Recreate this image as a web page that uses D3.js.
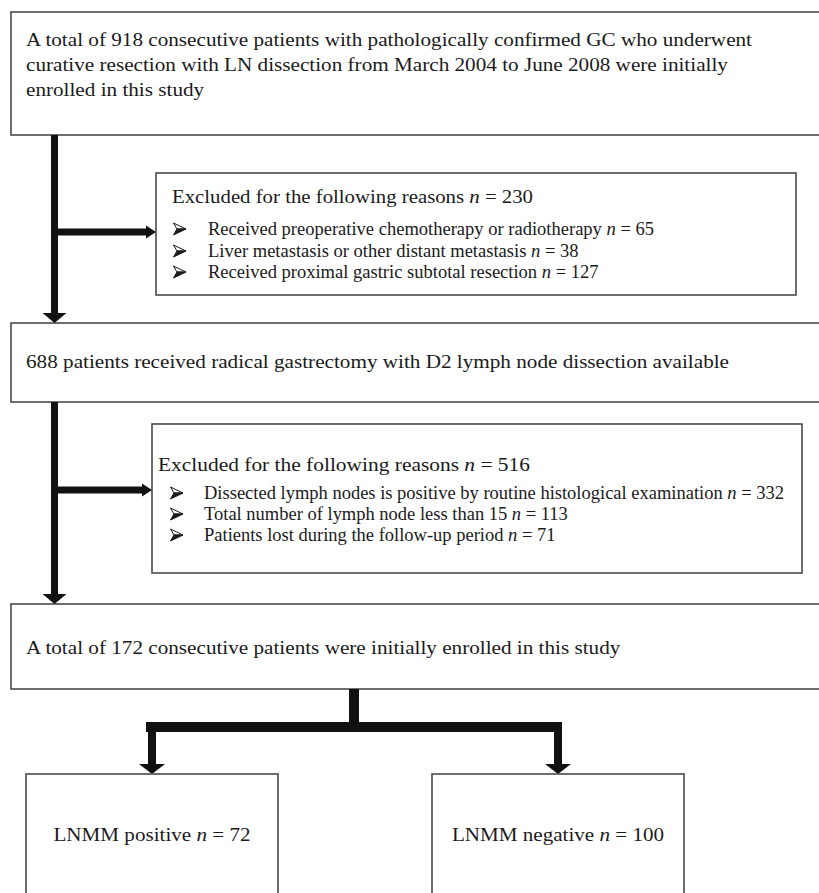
<!DOCTYPE html>
<html>
<head>
<meta charset="utf-8">
<script src="https://cdn.jsdelivr.net/npm/d3@7"></script>
<style>
  body { margin: 0; background: #fff; }
  text { font-family: "Liberation Serif", "DejaVu Serif", serif; fill: #1a1a1a; }
</style>
</head>
<body>
<svg id="chart"></svg>
<script>
// Flow chart content
const stepLines = [
  ["A total of 918 consecutive patients with pathologically confirmed GC who underwent",
   "curative resection with LN dissection from March 2004 to June 2008 were initially",
   "enrolled in this study"],
  ["688 patients received radical gastrectomy with D2 lymph node dissection available"],
  ["A total of 172 consecutive patients were initially enrolled in this study"]
];
const exclusionTotals = [230, 516];
const exclusionReasons = [
  ["Received preoperative chemotherapy or radiotherapy",
   "Liver metastasis or other distant metastasis",
   "Received proximal gastric subtotal resection"],
  ["Dissected lymph nodes is positive by routine histological examination",
   "Total number of lymph node less than 15",
   "Patients lost during the follow-up period"]
];
const exclusionCounts = [[65, 38, 127], [332, 113, 71]];
const groupNames = ["LNMM positive", "LNMM negative"];
const groupCounts = [72, 100];

// Layout
const width = 819, height = 893;
const stepBoxes = [
  {x: 11, y: 12, w: 830, h: 123, base: [46, 71, 96]},
  {x: 11, y: 323, w: 830, h: 79, base: [368]},
  {x: 11, y: 604, w: 830, h: 85, base: [654]}
];
const exclBoxes = [
  {x: 156, y: 173, w: 640, h: 122, title: 203, rows: [235, 257, 278],
   titleX: 172, bulletX: 173, rowX: 208, titleFit: 361, rowFit: 446},
  {x: 152, y: 424, w: 650, h: 149, title: 471, rows: [499, 520, 541],
   titleX: 158, bulletX: 170, rowX: 204, titleFit: 372, rowFit: 580}
];
const groupBoxes = [
  {x: 26, y: 774, w: 252, h: 140, cx: 152},
  {x: 432, y: 774, w: 252, h: 140, cx: 558}
];
const stemX = 54.5;
const branchY = [232, 490];

const svg = d3.select("#chart")
  .attr("width", width)
  .attr("height", height);

const boxStroke = "#4a4a4a";
const arrowFill = "#111";

// Stretch every text in a group by the same factor so a reference line hits its width
function fitGroup(texts, refNode, target) {
  const k = target / refNode.getComputedTextLength();
  texts.each(function() {
    const len = this.getComputedTextLength();
    d3.select(this)
      .attr("textLength", len * k)
      .attr("lengthAdjust", "spacingAndGlyphs");
  });
}

function addCount(sel, label, n) {
  sel.append("tspan").text(label + " ");
  sel.append("tspan").style("font-style", "italic").text("n");
  sel.append("tspan").text(" = " + n);
}

// Bullet arrowhead: outlined upper half, solid lower half
function bullet(x, y) {
  const g = svg.append("g").attr("transform", `translate(${x},${y})`);
  g.append("path")
    .attr("d", "M0.5,-6 L13,0 L4,0 Z")
    .attr("fill", "#fff").attr("stroke", "#1a1a1a").attr("stroke-width", 1)
    .attr("stroke-linejoin", "round");
  g.append("path")
    .attr("d", "M4,0 L13,0 L0.5,6 Z")
    .attr("fill", "#1a1a1a").attr("stroke", "#1a1a1a").attr("stroke-width", 1)
    .attr("stroke-linejoin", "round");
}

// Thick arrow heads
function arrowDown(x, y1, y2, w) {
  const head = 10, hw = w + 5;
  svg.append("rect")
    .attr("x", x - w / 2).attr("y", y1)
    .attr("width", w).attr("height", y2 - y1 - head)
    .attr("fill", arrowFill);
  svg.append("path")
    .attr("d", `M${x - hw},${y2 - head} L${x + hw},${y2 - head} L${x},${y2} Z`)
    .attr("fill", arrowFill);
}
function arrowRight(x1, x2, y, w) {
  const head = 10, hw = w - 0.5;
  svg.append("rect")
    .attr("x", x1).attr("y", y - w / 2)
    .attr("width", x2 - x1 - head).attr("height", w)
    .attr("fill", arrowFill);
  svg.append("path")
    .attr("d", `M${x2 - head},${y - hw} L${x2 - head},${y + hw} L${x2},${y} Z`)
    .attr("fill", arrowFill);
}

// Step boxes
const stepTexts = [];
stepBoxes.forEach((b, i) => {
  svg.append("rect")
    .attr("x", b.x).attr("y", b.y).attr("width", b.w).attr("height", b.h)
    .attr("fill", "none").attr("stroke", boxStroke).attr("stroke-width", 1.6);
  stepLines[i].forEach((line, j) => {
    const t = svg.append("text")
      .attr("class", "step-text")
      .attr("x", 26).attr("y", b.base[j])
      .style("font-size", "19.5px")
      .text(line);
    stepTexts.push(t.node());
  });
});
fitGroup(d3.selectAll(".step-text"), stepTexts[0], 726);

// Exclusion boxes
exclBoxes.forEach((b, i) => {
  svg.append("rect")
    .attr("x", b.x).attr("y", b.y).attr("width", b.w).attr("height", b.h)
    .attr("fill", "none").attr("stroke", boxStroke).attr("stroke-width", 1.6);
  const title = svg.append("text")
    .attr("x", b.titleX).attr("y", b.title)
    .style("font-size", "19px");
  addCount(title, "Excluded for the following reasons", exclusionTotals[i]);
  fitGroup(title, title.node(), b.titleFit);
  const cls = "excl-row-" + i;
  const rows = [];
  exclusionReasons[i].forEach((r, j) => {
    bullet(b.bulletX, b.rows[j] - 6);
    const t = svg.append("text")
      .attr("class", cls)
      .attr("x", b.rowX).attr("y", b.rows[j])
      .style("font-size", "18px");
    addCount(t, r, exclusionCounts[i][j]);
    rows.push(t.node());
  });
  fitGroup(d3.selectAll("." + cls), rows[0], b.rowFit);
});

// Main flow arrows
arrowDown(stemX, stepBoxes[0].y + stepBoxes[0].h, stepBoxes[1].y, 7);
arrowRight(stemX, exclBoxes[0].x, branchY[0], 7);
arrowDown(stemX, stepBoxes[1].y + stepBoxes[1].h, stepBoxes[2].y, 7);
arrowRight(stemX, exclBoxes[1].x, branchY[1], 7);

// Split into the two groups
const splitTop = stepBoxes[2].y + stepBoxes[2].h;
const splitY = 727;
svg.append("rect")
  .attr("x", 349).attr("y", splitTop)
  .attr("width", 10).attr("height", splitY - splitTop)
  .attr("fill", arrowFill);
svg.append("rect")
  .attr("x", groupBoxes[0].cx - 6).attr("y", splitY - 5)
  .attr("width", groupBoxes[1].cx - groupBoxes[0].cx + 10).attr("height", 10)
  .attr("fill", arrowFill);
groupBoxes.forEach(b => arrowDown(b.cx, splitY, b.y, 8));

// Group boxes
const groupTexts = [];
groupBoxes.forEach((b, i) => {
  svg.append("rect")
    .attr("x", b.x).attr("y", b.y).attr("width", b.w).attr("height", b.h)
    .attr("fill", "none").attr("stroke", boxStroke).attr("stroke-width", 1.6);
  const t = svg.append("text")
    .attr("class", "group-text")
    .attr("x", b.cx).attr("y", 841)
    .attr("text-anchor", "middle")
    .style("font-size", "19.5px");
  addCount(t, groupNames[i], groupCounts[i]);
  groupTexts.push(t.node());
});
fitGroup(d3.selectAll(".group-text"), groupTexts[0], 197);
</script>
</body>
</html>
